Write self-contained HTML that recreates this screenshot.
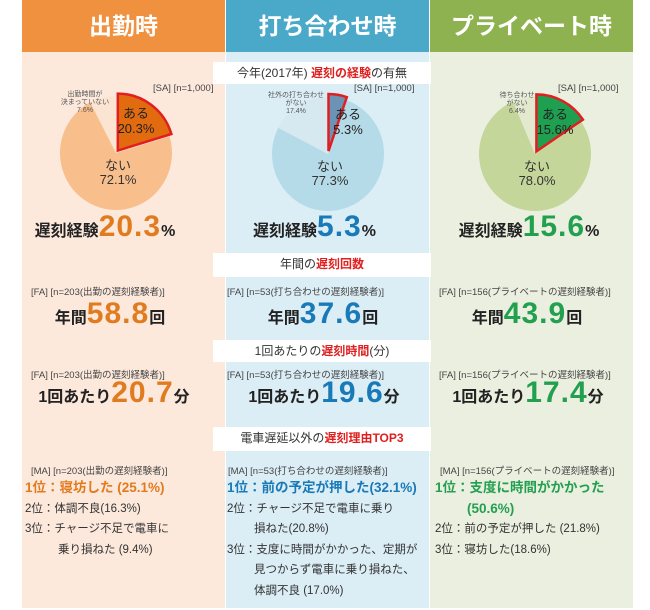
<!DOCTYPE html>
<html><head><meta charset="utf-8"><style>
*{margin:0;padding:0;box-sizing:border-box}
body{width:650px;height:610px;background:#fff;position:relative;overflow:hidden;font-family:"Liberation Sans","Noto Sans CJK JP",sans-serif;color:#222}
.a{position:absolute}
.hd{position:absolute;top:0;height:52px;color:#fff;font-weight:bold;font-size:23px;text-align:center;line-height:52px}
.col{position:absolute;top:52px;height:556px}
.lab{position:absolute;left:213px;width:218px;background:#fff;text-align:center;font-size:12px;line-height:22px;height:22px;color:#333}
.r{color:#e02020;font-weight:bold}
.sm{font-size:9.5px;color:#444;white-space:nowrap}
.big{position:absolute;text-align:center;font-weight:bold;font-size:16px;white-space:nowrap;color:#222}
.big b{font-size:30px;letter-spacing:1px}
.o{color:#e07b20}.bl{color:#1a7ab8}.g{color:#22a050}
.ls{position:absolute;font-size:11.5px;line-height:20.5px;color:#333;white-space:nowrap}
.ls .t{font-weight:bold;font-size:13.5px}
</style></head><body>
<div class="hd" style="left:22px;width:203px;background:#f0913f">出勤時</div>
<div class="hd" style="left:226px;width:203px;background:#4aa8c8">打ち合わせ時</div>
<div class="hd" style="left:430px;width:203px;background:#8db24f">プライベート時</div>
<div class="col" style="left:22px;width:203px;background:#fde9dc"></div>
<div class="col" style="left:226px;width:203px;background:#dbedf5"></div>
<div class="col" style="left:430px;width:203px;background:#ebefdf"></div>

<div class="lab" style="top:62px">今年(2017年) <span class="r">遅刻の経験</span>の有無</div>
<div class="a sm" style="left:153px;top:83px">[SA] [n=1,000]</div>
<div class="a sm" style="left:354px;top:83px">[SA] [n=1,000]</div>
<div class="a sm" style="left:558px;top:83px">[SA] [n=1,000]</div>

<svg id="pies" class="a" style="left:0;top:0" width="650" height="250"></svg>

<div class="big" style="left:33px;width:144px;top:210px">遅刻経験<b class="o">20.3</b>%</div>
<div class="big" style="left:252px;width:125px;top:210px">遅刻経験<b class="bl">5.3</b>%</div>
<div class="big" style="left:458px;width:142px;top:210px">遅刻経験<b class="g">15.6</b>%</div>

<div class="lab" style="top:253px;height:24px">年間の<span class="r">遅刻回数</span></div>
<div class="a sm" style="left:31px;top:284px">[FA] [n=203(出勤の遅刻経験者)]</div>
<div class="a sm" style="left:227px;top:284px">[FA] [n=53(打ち合わせの遅刻経験者)]</div>
<div class="a sm" style="left:439px;top:284px">[FA] [n=156(プライベートの遅刻経験者)]</div>
<div class="big" style="left:54px;width:112px;top:297px">年間<b class="o">58.8</b>回</div>
<div class="big" style="left:265px;width:116px;top:297px">年間<b class="bl">37.6</b>回</div>
<div class="big" style="left:471px;width:112px;top:297px">年間<b class="g">43.9</b>回</div>

<div class="lab" style="top:340px">1回あたりの<span class="r">遅刻時間</span>(分)</div>
<div class="a sm" style="left:31px;top:367px">[FA] [n=203(出勤の遅刻経験者)]</div>
<div class="a sm" style="left:227px;top:367px">[FA] [n=53(打ち合わせの遅刻経験者)]</div>
<div class="a sm" style="left:439px;top:367px">[FA] [n=156(プライベートの遅刻経験者)]</div>
<div class="big" style="left:30px;width:168px;top:376px">1回あたり<b class="o">20.7</b>分</div>
<div class="big" style="left:238px;width:172px;top:376px">1回あたり<b class="bl">19.6</b>分</div>
<div class="big" style="left:444px;width:168px;top:376px">1回あたり<b class="g">17.4</b>分</div>

<div class="lab" style="top:427px;height:24px">電車遅延以外の<span class="r">遅刻理由TOP3</span></div>
<div class="a sm" style="left:31px;top:463px">[MA] [n=203(出勤の遅刻経験者)]</div>
<div class="a sm" style="left:228px;top:463px">[MA] [n=53(打ち合わせの遅刻経験者)]</div>
<div class="a sm" style="left:440px;top:463px">[MA] [n=156(プライベートの遅刻経験者)]</div>

<div class="ls" style="left:25px;top:478px">
<div class="t o">1位：寝坊した (25.1%)</div>
<div>2位：体調不良(16.3%)</div>
<div>3位：チャージ不足で電車に</div>
<div style="padding-left:33px">乗り損ねた (9.4%)</div></div>
<div class="ls" style="left:227px;top:478px">
<div class="t bl">1位：前の予定が押した(32.1%)</div>
<div>2位：チャージ不足で電車に乗り</div>
<div style="padding-left:27px">損ねた(20.8%)</div>
<div>3位：支度に時間がかかった、定期が</div>
<div style="padding-left:27px">見つからず電車に乗り損ねた、</div>
<div style="padding-left:27px">体調不良 (17.0%)</div></div>
<div class="ls" style="left:435px;top:478px">
<div class="t g">1位：支度に時間がかかった</div>
<div class="t g" style="padding-left:32px">(50.6%)</div>
<div>2位：前の予定が押した (21.8%)</div>
<div>3位：寝坊した(18.6%)</div></div>

<script>
const pieNames=["commute","meeting","private"];
const pieYes=[20.3,5.3,15.6];
const pieNo=[72.1,77.3,78.0];
const pieOther=[7.6,17.4,6.4];
const otherLabels=[["出勤時間が","決まっていない","7.6%"],["社外の打ち合わせ","がない","17.4%"],["待ち合わせ","がない","6.4%"]];
const yesColors=["#e26b10","#6a93b5","#1fa050"];
const noColors=["#f8bf8c","#b5dbe9","#c5d69a"];
const otherColors=["#fbe4d2","#d6e9f1","#e2e9cf"];
const centers=[[116,153],[328,154],[535,154]];
const otherLabelX=[85,296,517];
const RX=56,RY=57;
const svg=document.getElementById('pies');
const NS="http://www.w3.org/2000/svg";
function pt(c,a,dx,dy){return [c[0]+dx+RX*Math.sin(a),c[1]+dy-RY*Math.cos(a)];}
function slice(c,a0,a1,fill,stroke,dx,dy){
 const p=document.createElementNS(NS,'path');
 const s=pt(c,a0,dx,dy),e=pt(c,a1,dx,dy);
 const large=(a1-a0)>Math.PI?1:0;
 p.setAttribute('d',`M${c[0]+dx},${c[1]+dy} L${s[0]},${s[1]} A${RX},${RY} 0 ${large} 1 ${e[0]},${e[1]} Z`);
 p.setAttribute('fill',fill);
 if(stroke){p.setAttribute('stroke',stroke);p.setAttribute('stroke-width','2.5');}
 svg.appendChild(p);return p;}
function txt(x,y,s,size,fill){const t=document.createElementNS(NS,'text');t.setAttribute('x',x);t.setAttribute('y',y);t.setAttribute('font-size',size);t.setAttribute('text-anchor','middle');t.setAttribute('fill',fill||'#333');t.textContent=s;svg.appendChild(t);return t;}
for(let i=0;i<3;i++){
 const c=centers[i],tot=pieYes[i]+pieNo[i]+pieOther[i];
 const ay=2*Math.PI*pieYes[i]/tot, an=ay+2*Math.PI*pieNo[i]/tot;
 let p=slice(c,ay,an,noColors[i],null,0,0);
 
 
 p=slice(c,an,2*Math.PI,otherColors[i],null,0,0);
 
 
 const mid=ay/2,off=3;
 p=slice(c,0,ay,yesColors[i],'#e02020',off*Math.sin(mid),-off*Math.cos(mid));
 
 
 txt(c[0]+2,c[1]+17,"ない",13);
 txt(c[0]+2,c[1]+31,pieNo[i].toFixed(1)+"%",13);
 const yx=c[0]+Math.max(RX*0.6*Math.sin(Math.min(mid,0.9)),20);
 txt(yx,c[1]-35,"ある",13,'#222');
 txt(yx,c[1]-20,pieYes[i].toFixed(1)+"%",13,'#222');
 const ol=otherLabels[i];
 for(let k=0;k<3;k++)txt(otherLabelX[i],c[1]-57+k*8,ol[k],7,'#555');
}
</script>
</body></html>
